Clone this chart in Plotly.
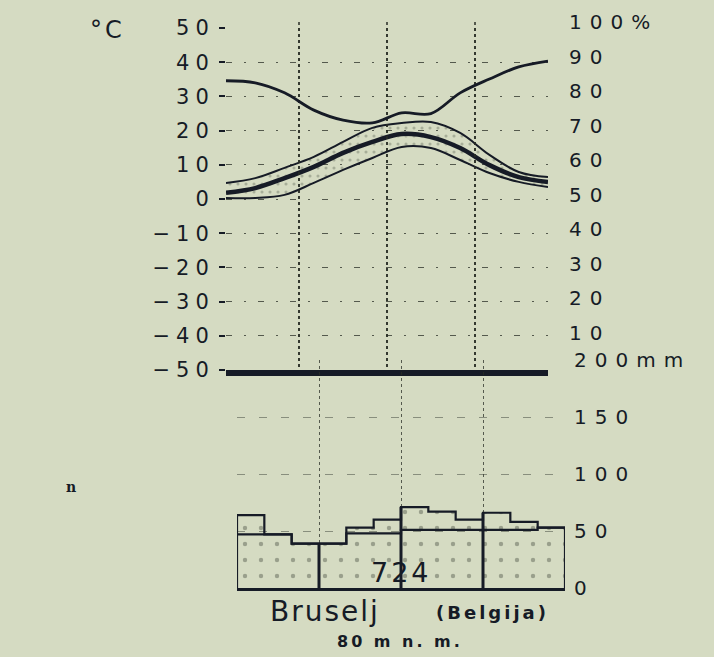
import plotly.graph_objects as go

# ---------------- data ----------------
months = [1, 2, 3, 4, 5, 6, 7, 8, 9, 10, 11, 12]

# temperature curves, degC
temp_upper = [4.7, 6.1, 9.1, 12.3, 16.7, 20.8, 22.2, 22.5, 19.3, 12.9, 7.9, 6.4]
temp_mean = [1.8, 3.2, 6.1, 9.4, 13.5, 16.7, 19.0, 18.1, 14.9, 9.9, 6.4, 5.0]
temp_lower = [0.3, 0.3, 1.2, 4.7, 8.5, 12.0, 15.2, 14.9, 11.4, 7.6, 5.0, 3.5]

# relative humidity, % (read against the right-hand scale)
humidity = [83.0, 82.4, 79.5, 74.5, 71.6, 70.8, 73.7, 73.5, 79.5, 83.5, 87.0, 88.7]

# precipitation, mm (outer step outline and inner level)
precip_outer = [64, 47, 39, 39, 53, 60, 71, 67, 60, 66, 58, 53]
precip_inner = [47, 47, 39, 39, 48, 48, 51, 51, 51, 51, 51, 53]
annual_total = "724"

temp_ticks = [50, 40, 30, 20, 10, 0, -10, -20, -30, -40, -50]
hum_ticks = [100, 90, 80, 70, 60, 50, 40, 30, 20, 10]
prec_ticks = [200, 150, 100, 50, 0]

station = "Bruselj"
country = "(Belgija)"
altitude = "80 m n. m."

# ---------------- layout helpers ----------------
W, H = 714, 657
def px_x(v):
    return v / W
def px_y(v):
    return 1 - v / H

def wide(s, sp):
    return "<span style='letter-spacing:%dpx'>%s</span>" % (sp, s)

INK = "#161b26"
BG = "#d5dbc2"
FONT = "DejaVu Sans"
GRID = "rgba(40,46,38,0.75)"

xm = [m - 0.5 for m in months]

fig = go.Figure()

# temperature band (lower, upper with stippled fill), mean line
fig.add_trace(go.Scatter(x=xm, y=temp_lower, mode="lines",
                         line=dict(color=INK, width=2, shape="spline"),
                         xaxis="x", yaxis="y", showlegend=False, hoverinfo="skip"))
fig.add_trace(go.Scatter(x=xm, y=temp_upper, mode="lines",
                         line=dict(color=INK, width=2, shape="spline"),
                         fill="tonexty", fillcolor="rgba(0,0,0,0)",
                         fillpattern=dict(shape=".", fgcolor="#7a8170", size=8, solidity=0.12,
                                          bgcolor="rgba(0,0,0,0)"),
                         xaxis="x", yaxis="y", showlegend=False, hoverinfo="skip"))
fig.add_trace(go.Scatter(x=xm, y=temp_mean, mode="lines",
                         line=dict(color=INK, width=4.5, shape="spline"),
                         xaxis="x", yaxis="y", showlegend=False, hoverinfo="skip"))
# humidity
fig.add_trace(go.Scatter(x=xm, y=humidity, mode="lines",
                         line=dict(color=INK, width=2.8, shape="spline"),
                         xaxis="x", yaxis="y2", showlegend=False, hoverinfo="skip"))

# precipitation: stippled bars
fig.add_trace(go.Bar(x=xm, y=precip_outer, width=1,
                     marker=dict(color="rgba(0,0,0,0)", line=dict(width=0),
                                 pattern=dict(shape=".", fgcolor="#5d6455", size=16,
                                              solidity=0.06, bgcolor="rgba(0,0,0,0)")),
                     xaxis="x2", yaxis="y3", showlegend=False, hoverinfo="skip"))

def step_xy(vals, closed=False):
    xs, ys = [], []
    if closed:
        xs.append(0); ys.append(0)
    for i, v in enumerate(vals):
        xs += [i, i + 1]
        ys += [v, v]
    if closed:
        xs.append(len(vals)); ys.append(0)
    return xs, ys

sx, sy = step_xy(precip_inner)
fig.add_trace(go.Scatter(x=sx, y=sy, mode="lines", line=dict(color=INK, width=2.2),
                         xaxis="x2", yaxis="y3", showlegend=False, hoverinfo="skip"))
sx, sy = step_xy(precip_outer, closed=True)
fig.add_trace(go.Scatter(x=sx, y=sy, mode="lines", line=dict(color=INK, width=2.2),
                         xaxis="x2", yaxis="y3", showlegend=False, hoverinfo="skip"))

# quarter dividers inside the precipitation block
shapes = []
for b in (3, 6, 9):
    top = max(precip_outer[b - 1], precip_outer[b])
    shapes.append(dict(type="line", xref="x2", yref="y3", x0=b, x1=b, y0=0, y1=top,
                       line=dict(color=INK, width=3)))

def note(text, x, y, size, family=FONT, xref="paper", yref="paper"):
    return dict(text=text, x=x, y=y, xref=xref, yref=yref, showarrow=False,
                xanchor="center", yanchor="middle",
                font=dict(family=family, size=size, color=INK))

annotations = [
    note(wide("°C", 3), px_x(108), px_y(30), 24),
    note(wide(annual_total, 3), 6, 14, 27, xref="x2", yref="y3"),
    note(wide(station, 2), px_x(325), px_y(611), 28),
    note("<b>" + wide(country, 3) + "</b>", px_x(492), px_y(612), 18),
    note("<b>" + wide(altitude, 3) + "</b>", px_x(400), px_y(641), 16),
    note("<b>n</b>", px_x(71), px_y(487), 14, family="DejaVu Serif"),
]

fig.update_layout(
    width=W, height=H,
    margin=dict(l=0, r=0, t=0, b=0, autoexpand=False),
    paper_bgcolor=BG, plot_bgcolor="rgba(0,0,0,0)",
    showlegend=False,
    bargap=0,
    shapes=shapes,
    annotations=annotations,
    xaxis=dict(domain=[px_x(226), px_x(548)], range=[0.5, 11.5], anchor="y",
               tickvals=[3, 6, 9, 11.5], showticklabels=False, ticks="", automargin=False,
               showgrid=True, gridcolor=GRID, gridwidth=1.5, griddash="dot",
               showline=True, linecolor=INK, linewidth=6, zeroline=False),
    yaxis=dict(domain=[px_y(370), px_y(28)], range=[-50, 50], anchor="x", automargin=False,
               tickvals=temp_ticks,
               ticktext=[wide(("−" if t < 0 else "") + str(abs(t)), 6) for t in temp_ticks],
               tickfont=dict(family=FONT, size=21, color=INK),
               ticks="outside", ticklen=6, tickwidth=2, tickcolor=INK, ticklabelstandoff=0,
               showgrid=True, gridcolor=GRID, gridwidth=1.3, griddash="6px,12px,2px,12px",
               zeroline=False, showline=False),
    yaxis2=dict(domain=[px_y(367.6), px_y(22)], range=[0, 100], side="right",
                anchor="x", tickvals=hum_ticks, automargin=False,
                ticktext=[wide(str(t) + ("%" if t == 100 else ""), 8) for t in hum_ticks],
                tickfont=dict(family=FONT, size=20, color=INK),
                ticks="", ticklabelstandoff=20, showgrid=False, zeroline=False, showline=False),
    xaxis2=dict(domain=[px_x(237), px_x(565)], range=[0, 12], anchor="y3", automargin=False,
                tickvals=[3, 6, 9], showticklabels=False, ticks="",
                showgrid=True, gridcolor=GRID, gridwidth=1.2, griddash="dot",
                showline=True, linecolor=INK, linewidth=2.5, zeroline=False),
    yaxis3=dict(domain=[px_y(588), px_y(360)], range=[0, 200], anchor="x2", side="right",
                tickvals=prec_ticks, automargin=False,
                ticktext=[wide(str(t) + ("mm" if t == 200 else ""), 8) for t in prec_ticks],
                tickfont=dict(family=FONT, size=20, color=INK),
                ticks="", ticklabelstandoff=8,
                showgrid=True, gridcolor="rgba(60,66,56,0.5)", gridwidth=1.2,
                griddash="8px,14px",
                zeroline=False, showline=False),
)

fig.write_html("out.html",
               config={"displayModeBar": False},
               post_script="document.body.style.margin='0';document.body.style.padding='0';"
                           "document.body.style.background='%s';" % BG)
